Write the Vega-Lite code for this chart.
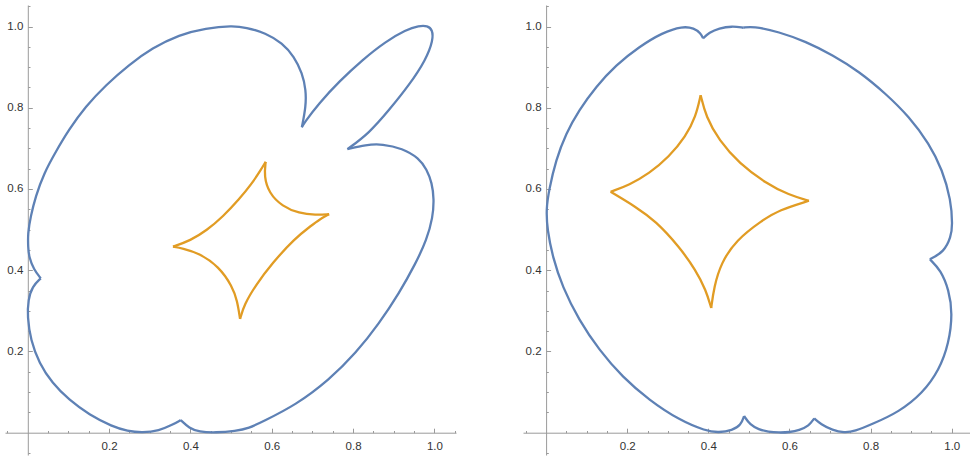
{
  "$schema": "https://vega.github.io/schema/vega-lite/v6.json",
  "background": "white",
  "padding": {"left": 5, "top": 0, "right": 0, "bottom": 0},
  "spacing": 67,
  "bounds": "flush",
  "config": {
    "view": {"stroke": null},
    "axis": {
      "title": null, "grid": false,
      "labelExpr": "round(datum.value*100) % 20 == 0 ? format(datum.value, '.1f') : ''",
      "tickSize": {"condition": {"test": "round(datum.value*100) % 20 == 0", "value": -4.5}, "value": -2.2},
      "domainColor": "#9a9a9a", "tickColor": "#9a9a9a", "domainWidth": 1, "tickWidth": 1,
      "labelColor": "#333333", "labelFont": "Liberation Sans", "labelFontSize": 11.5,
      "labelOverlap": false, "labelFlush": false, "labelBound": false
    }
  },
  "datasets": {
    "left": [
      {"s":"a","g":"A","i":0,"x":0.674,"y":0.752},{"s":"a","g":"A","i":1,"x":0.684,"y":0.803},{"s":"a","g":"A","i":2,"x":0.684,"y":0.844},{"s":"a","g":"A","i":3,"x":0.675,"y":0.885},{"s":"a","g":"A","i":4,"x":0.655,"y":0.926},{"s":"a","g":"A","i":5,"x":0.626,"y":0.959},{"s":"a","g":"A","i":6,"x":0.585,"y":0.984},{"s":"a","g":"A","i":7,"x":0.536,"y":0.998},{"s":"a","g":"A","i":8,"x":0.503,"y":1.002},{"s":"a","g":"A","i":9,"x":0.438,"y":0.996},{"s":"a","g":"A","i":10,"x":0.372,"y":0.980},{"s":"a","g":"A","i":11,"x":0.306,"y":0.947},{"s":"a","g":"A","i":12,"x":0.249,"y":0.906},{"s":"a","g":"A","i":13,"x":0.192,"y":0.856},{"s":"a","g":"A","i":14,"x":0.142,"y":0.803},{"s":"a","g":"A","i":15,"x":0.101,"y":0.746},{"s":"a","g":"A","i":16,"x":0.069,"y":0.692},{"s":"a","g":"A","i":17,"x":0.040,"y":0.639},{"s":"a","g":"A","i":18,"x":0.019,"y":0.581},{"s":"a","g":"A","i":19,"x":0.007,"y":0.532},{"s":"a","g":"A","i":20,"x":0.000,"y":0.490},{"s":"a","g":"A","i":21,"x":0.001,"y":0.455},{"s":"a","g":"A","i":22,"x":0.003,"y":0.433},{"s":"a","g":"A","i":23,"x":0.015,"y":0.401},{"s":"a","g":"A","i":24,"x":0.032,"y":0.380},
      {"s":"a","g":"B","i":0,"x":0.032,"y":0.380},{"s":"a","g":"B","i":1,"x":0.011,"y":0.360},{"s":"a","g":"B","i":2,"x":0.001,"y":0.327},{"s":"a","g":"B","i":3,"x":-0.001,"y":0.286},{"s":"a","g":"B","i":4,"x":0.007,"y":0.228},{"s":"a","g":"B","i":5,"x":0.028,"y":0.171},{"s":"a","g":"B","i":6,"x":0.060,"y":0.122},{"s":"a","g":"B","i":7,"x":0.101,"y":0.081},{"s":"a","g":"B","i":8,"x":0.151,"y":0.044},{"s":"a","g":"B","i":9,"x":0.208,"y":0.015},{"s":"a","g":"B","i":10,"x":0.245,"y":0.004},{"s":"a","g":"B","i":11,"x":0.282,"y":0.000},{"s":"a","g":"B","i":12,"x":0.323,"y":0.005},{"s":"a","g":"B","i":13,"x":0.355,"y":0.019},{"s":"a","g":"B","i":14,"x":0.376,"y":0.031},
      {"s":"a","g":"C","i":0,"x":0.376,"y":0.031},{"s":"a","g":"C","i":1,"x":0.397,"y":0.011},{"s":"a","g":"C","i":2,"x":0.421,"y":0.002},{"s":"a","g":"C","i":3,"x":0.462,"y":0.000},{"s":"a","g":"C","i":4,"x":0.511,"y":0.004},{"s":"a","g":"C","i":5,"x":0.544,"y":0.011},{"s":"a","g":"C","i":6,"x":0.577,"y":0.027},{"s":"a","g":"C","i":7,"x":0.659,"y":0.068},{"s":"a","g":"C","i":8,"x":0.741,"y":0.130},{"s":"a","g":"C","i":9,"x":0.807,"y":0.196},{"s":"a","g":"C","i":10,"x":0.864,"y":0.269},{"s":"a","g":"C","i":11,"x":0.913,"y":0.343},{"s":"a","g":"C","i":12,"x":0.954,"y":0.417},{"s":"a","g":"C","i":13,"x":0.981,"y":0.475},{"s":"a","g":"C","i":14,"x":0.996,"y":0.530},{"s":"a","g":"C","i":15,"x":0.999,"y":0.575},{"s":"a","g":"C","i":16,"x":0.994,"y":0.615},{"s":"a","g":"C","i":17,"x":0.981,"y":0.648},{"s":"a","g":"C","i":18,"x":0.962,"y":0.676},{"s":"a","g":"C","i":19,"x":0.921,"y":0.700},{"s":"a","g":"C","i":20,"x":0.872,"y":0.711},{"s":"a","g":"C","i":21,"x":0.831,"y":0.709},{"s":"a","g":"C","i":22,"x":0.786,"y":0.698},
      {"s":"a","g":"D","i":0,"x":0.786,"y":0.698},{"s":"a","g":"D","i":1,"x":0.839,"y":0.737},{"s":"a","g":"D","i":2,"x":0.889,"y":0.795},{"s":"a","g":"D","i":3,"x":0.938,"y":0.856},{"s":"a","g":"D","i":4,"x":0.979,"y":0.918},{"s":"a","g":"D","i":5,"x":0.997,"y":0.967},{"s":"a","g":"D","i":6,"x":0.995,"y":0.992},{"s":"a","g":"D","i":7,"x":0.983,"y":1.002},{"s":"a","g":"D","i":8,"x":0.962,"y":1.002},{"s":"a","g":"D","i":9,"x":0.930,"y":0.992},{"s":"a","g":"D","i":10,"x":0.880,"y":0.963},{"s":"a","g":"D","i":11,"x":0.823,"y":0.918},{"s":"a","g":"D","i":12,"x":0.766,"y":0.865},{"s":"a","g":"D","i":13,"x":0.716,"y":0.811},{"s":"a","g":"D","i":14,"x":0.679,"y":0.762},{"s":"a","g":"D","i":15,"x":0.674,"y":0.752},
      {"s":"b","g":"E","i":0,"x":0.585,"y":0.667},{"s":"b","g":"E","i":1,"x":0.581,"y":0.631},{"s":"b","g":"E","i":2,"x":0.593,"y":0.590},{"s":"b","g":"E","i":3,"x":0.626,"y":0.557},{"s":"b","g":"E","i":4,"x":0.667,"y":0.540},{"s":"b","g":"E","i":5,"x":0.708,"y":0.536},{"s":"b","g":"E","i":6,"x":0.741,"y":0.538},
      {"s":"b","g":"F","i":0,"x":0.741,"y":0.538},{"s":"b","g":"F","i":1,"x":0.716,"y":0.524},{"s":"b","g":"F","i":2,"x":0.700,"y":0.512},{"s":"b","g":"F","i":3,"x":0.655,"y":0.477},{"s":"b","g":"F","i":4,"x":0.601,"y":0.417},{"s":"b","g":"F","i":5,"x":0.561,"y":0.364},{"s":"b","g":"F","i":6,"x":0.532,"y":0.315},{"s":"b","g":"F","i":7,"x":0.522,"y":0.280},
      {"s":"b","g":"G","i":0,"x":0.522,"y":0.280},{"s":"b","g":"G","i":1,"x":0.515,"y":0.325},{"s":"b","g":"G","i":2,"x":0.503,"y":0.360},{"s":"b","g":"G","i":3,"x":0.470,"y":0.409},{"s":"b","g":"G","i":4,"x":0.421,"y":0.442},{"s":"b","g":"G","i":5,"x":0.380,"y":0.454},{"s":"b","g":"G","i":6,"x":0.357,"y":0.458},
      {"s":"b","g":"H","i":0,"x":0.357,"y":0.458},{"s":"b","g":"H","i":1,"x":0.400,"y":0.473},{"s":"b","g":"H","i":2,"x":0.440,"y":0.498},{"s":"b","g":"H","i":3,"x":0.480,"y":0.532},{"s":"b","g":"H","i":4,"x":0.520,"y":0.575},{"s":"b","g":"H","i":5,"x":0.550,"y":0.612},{"s":"b","g":"H","i":6,"x":0.572,"y":0.645},{"s":"b","g":"H","i":7,"x":0.585,"y":0.667}
    ],
    "right": [
      {"s":"a","g":"A","i":0,"x":0.387,"y":0.971},{"s":"a","g":"A","i":1,"x":0.402,"y":0.985},{"s":"a","g":"A","i":2,"x":0.426,"y":0.996},{"s":"a","g":"A","i":3,"x":0.459,"y":1.001},{"s":"a","g":"A","i":4,"x":0.486,"y":0.997},
      {"s":"a","g":"B","i":0,"x":0.486,"y":0.997},{"s":"a","g":"B","i":1,"x":0.509,"y":1.001},{"s":"a","g":"B","i":2,"x":0.574,"y":0.987},{"s":"a","g":"B","i":3,"x":0.640,"y":0.963},{"s":"a","g":"B","i":4,"x":0.706,"y":0.930},{"s":"a","g":"B","i":5,"x":0.772,"y":0.889},{"s":"a","g":"B","i":6,"x":0.837,"y":0.835},{"s":"a","g":"B","i":7,"x":0.895,"y":0.778},{"s":"a","g":"B","i":8,"x":0.944,"y":0.712},{"s":"a","g":"B","i":9,"x":0.977,"y":0.647},{"s":"a","g":"B","i":10,"x":0.998,"y":0.573},{"s":"a","g":"B","i":11,"x":1.002,"y":0.511},{"s":"a","g":"B","i":12,"x":0.998,"y":0.482},{"s":"a","g":"B","i":13,"x":0.981,"y":0.445},{"s":"a","g":"B","i":14,"x":0.946,"y":0.427},
      {"s":"a","g":"C","i":0,"x":0.946,"y":0.427},{"s":"a","g":"C","i":1,"x":0.973,"y":0.400},{"s":"a","g":"C","i":2,"x":0.993,"y":0.351},{"s":"a","g":"C","i":3,"x":1.002,"y":0.294},{"s":"a","g":"C","i":4,"x":0.993,"y":0.220},{"s":"a","g":"C","i":5,"x":0.969,"y":0.154},{"s":"a","g":"C","i":6,"x":0.928,"y":0.097},{"s":"a","g":"C","i":7,"x":0.870,"y":0.051},{"s":"a","g":"C","i":8,"x":0.804,"y":0.021},{"s":"a","g":"C","i":9,"x":0.760,"y":0.003},{"s":"a","g":"C","i":10,"x":0.735,"y":0.000},{"s":"a","g":"C","i":11,"x":0.706,"y":0.006},{"s":"a","g":"C","i":12,"x":0.677,"y":0.021},{"s":"a","g":"C","i":13,"x":0.661,"y":0.035},
      {"s":"a","g":"D","i":0,"x":0.661,"y":0.035},{"s":"a","g":"D","i":1,"x":0.648,"y":0.017},{"s":"a","g":"D","i":2,"x":0.624,"y":0.006},{"s":"a","g":"D","i":3,"x":0.600,"y":0.001},{"s":"a","g":"D","i":4,"x":0.574,"y":0.000},{"s":"a","g":"D","i":5,"x":0.548,"y":0.002},{"s":"a","g":"D","i":6,"x":0.524,"y":0.008},{"s":"a","g":"D","i":7,"x":0.503,"y":0.019},{"s":"a","g":"D","i":8,"x":0.488,"y":0.041},
      {"s":"a","g":"E","i":0,"x":0.488,"y":0.041},{"s":"a","g":"E","i":1,"x":0.480,"y":0.018},{"s":"a","g":"E","i":2,"x":0.459,"y":0.006},{"s":"a","g":"E","i":3,"x":0.426,"y":0.000},{"s":"a","g":"E","i":4,"x":0.394,"y":0.004},{"s":"a","g":"E","i":5,"x":0.328,"y":0.031},{"s":"a","g":"E","i":6,"x":0.254,"y":0.080},{"s":"a","g":"E","i":7,"x":0.188,"y":0.137},{"s":"a","g":"E","i":8,"x":0.131,"y":0.203},{"s":"a","g":"E","i":9,"x":0.081,"y":0.277},{"s":"a","g":"E","i":10,"x":0.040,"y":0.359},{"s":"a","g":"E","i":11,"x":0.016,"y":0.433},{"s":"a","g":"E","i":12,"x":0.003,"y":0.499},{"s":"a","g":"E","i":13,"x":0.000,"y":0.550},{"s":"a","g":"E","i":14,"x":0.007,"y":0.597},{"s":"a","g":"E","i":15,"x":0.024,"y":0.671},{"s":"a","g":"E","i":16,"x":0.049,"y":0.737},{"s":"a","g":"E","i":17,"x":0.081,"y":0.794},{"s":"a","g":"E","i":18,"x":0.123,"y":0.852},{"s":"a","g":"E","i":19,"x":0.172,"y":0.905},{"s":"a","g":"E","i":20,"x":0.229,"y":0.950},{"s":"a","g":"E","i":21,"x":0.287,"y":0.985},{"s":"a","g":"E","i":22,"x":0.336,"y":1.001},{"s":"a","g":"E","i":23,"x":0.365,"y":0.996},{"s":"a","g":"E","i":24,"x":0.381,"y":0.983},{"s":"a","g":"E","i":25,"x":0.387,"y":0.971},
      {"s":"b","g":"F","i":0,"x":0.381,"y":0.831},{"s":"b","g":"F","i":1,"x":0.369,"y":0.778},{"s":"b","g":"F","i":2,"x":0.344,"y":0.729},{"s":"b","g":"F","i":3,"x":0.303,"y":0.679},{"s":"b","g":"F","i":4,"x":0.254,"y":0.638},{"s":"b","g":"F","i":5,"x":0.205,"y":0.610},{"s":"b","g":"F","i":6,"x":0.159,"y":0.593},
      {"s":"b","g":"G","i":0,"x":0.381,"y":0.831},{"s":"b","g":"G","i":1,"x":0.394,"y":0.778},{"s":"b","g":"G","i":2,"x":0.426,"y":0.720},{"s":"b","g":"G","i":3,"x":0.476,"y":0.663},{"s":"b","g":"G","i":4,"x":0.542,"y":0.614},{"s":"b","g":"G","i":5,"x":0.599,"y":0.585},{"s":"b","g":"G","i":6,"x":0.648,"y":0.571},
      {"s":"b","g":"H","i":0,"x":0.159,"y":0.593},{"s":"b","g":"H","i":1,"x":0.221,"y":0.556},{"s":"b","g":"H","i":2,"x":0.270,"y":0.521},{"s":"b","g":"H","i":3,"x":0.328,"y":0.458},{"s":"b","g":"H","i":4,"x":0.369,"y":0.400},{"s":"b","g":"H","i":5,"x":0.394,"y":0.351},{"s":"b","g":"H","i":6,"x":0.407,"y":0.307},
      {"s":"b","g":"I","i":0,"x":0.648,"y":0.571},{"s":"b","g":"I","i":1,"x":0.574,"y":0.548},{"s":"b","g":"I","i":2,"x":0.533,"y":0.523},{"s":"b","g":"I","i":3,"x":0.468,"y":0.474},{"s":"b","g":"I","i":4,"x":0.431,"y":0.417},{"s":"b","g":"I","i":5,"x":0.414,"y":0.359},{"s":"b","g":"I","i":6,"x":0.407,"y":0.307}
    ]
  },
  "hconcat": [
    {
      "width": 451, "height": 450,
      "data": {"name": "left"},
      "mark": {"type": "line", "strokeWidth": 2.3, "interpolate": "basis", "strokeJoin": "round", "clip": false},
      "encoding": {
        "x": {"field": "x", "type": "quantitative", "scale": {"domain": [-0.056, 1.053], "nice": false, "zero": false},
              "axis": {"orient": "bottom", "offset": -22.3, "labelPadding": 12.5, "labelAlign": "center", "labelBaseline": "top",
                       "values": [-0.05,0.05,0.1,0.15,0.2,0.25,0.3,0.35,0.4,0.45,0.5,0.55,0.6,0.65,0.7,0.75,0.8,0.85,0.9,0.95,1,1.05]}},
        "y": {"field": "y", "type": "quantitative", "scale": {"domain": [-0.055, 1.053], "nice": false, "zero": false},
              "axis": {"orient": "left", "offset": -22.8, "labelPadding": 9.5, "labelAlign": "right", "labelBaseline": "middle",
                       "values": [-0.05,0.05,0.1,0.15,0.2,0.25,0.3,0.35,0.4,0.45,0.5,0.55,0.6,0.65,0.7,0.75,0.8,0.85,0.9,0.95,1,1.05]}},
        "color": {"field": "s", "type": "nominal", "scale": {"domain": ["a", "b"], "range": ["#5E81B5", "#E19C24"]}, "legend": null},
        "detail": {"field": "g", "type": "nominal"},
        "order": {"field": "i", "type": "quantitative"}
      }
    },
    {
      "width": 447, "height": 450,
      "data": {"name": "right"},
      "mark": {"type": "line", "strokeWidth": 2.3, "interpolate": "basis", "strokeJoin": "round", "clip": false},
      "encoding": {
        "x": {"field": "x", "type": "quantitative", "scale": {"domain": [-0.057, 1.045], "nice": false, "zero": false},
              "axis": {"orient": "bottom", "offset": -22.3, "labelPadding": 12.5, "labelAlign": "center", "labelBaseline": "top",
                       "values": [-0.05,0.05,0.1,0.15,0.2,0.25,0.3,0.35,0.4,0.45,0.5,0.55,0.6,0.65,0.7,0.75,0.8,0.85,0.9,0.95,1,1.05]}},
        "y": {"field": "y", "type": "quantitative", "scale": {"domain": [-0.055, 1.053], "nice": false, "zero": false},
              "axis": {"orient": "left", "offset": -23.1, "labelPadding": 9.5, "labelAlign": "right", "labelBaseline": "middle",
                       "values": [-0.05,0.05,0.1,0.15,0.2,0.25,0.3,0.35,0.4,0.45,0.5,0.55,0.6,0.65,0.7,0.75,0.8,0.85,0.9,0.95,1,1.05]}},
        "color": {"field": "s", "type": "nominal", "scale": {"domain": ["a", "b"], "range": ["#5E81B5", "#E19C24"]}, "legend": null},
        "detail": {"field": "g", "type": "nominal"},
        "order": {"field": "i", "type": "quantitative"}
      }
    }
  ]
}
